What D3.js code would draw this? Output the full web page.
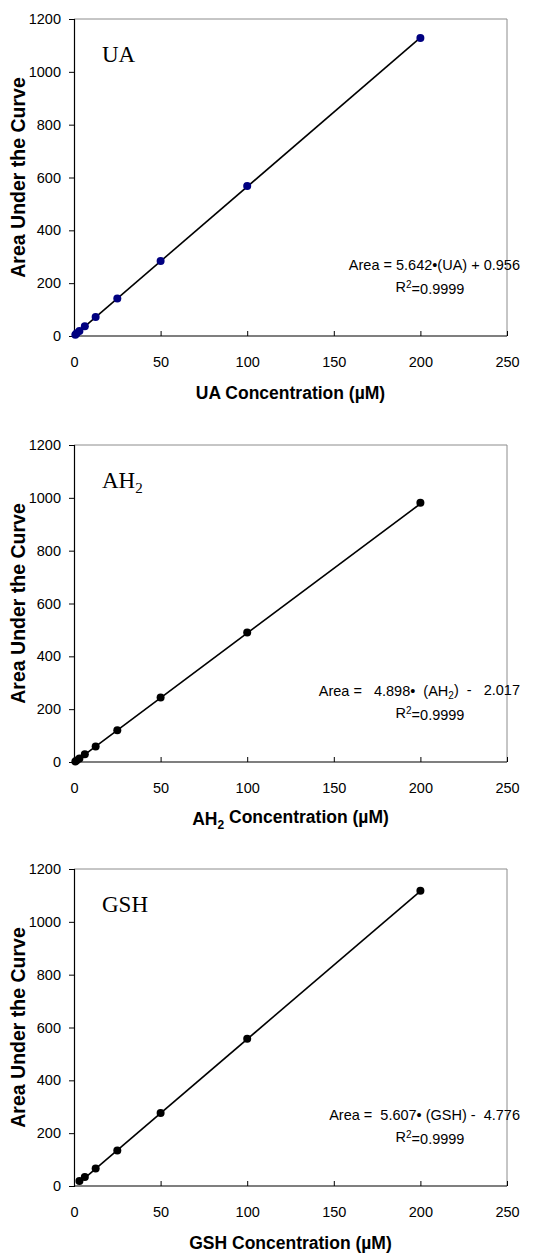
<!DOCTYPE html>
<html>
<head>
<meta charset="utf-8">
<script src="https://cdn.jsdelivr.net/npm/d3@7"></script>
<style>
  html, body { margin: 0; padding: 0; background: #fff; }
  svg { display: block; }
  .tick text { font-family: Arial, "Liberation Sans", sans-serif; font-size: 14.5px; fill: #000; }
  .axis-title { font-family: Arial, "Liberation Sans", sans-serif; font-size: 17.5px; font-weight: bold; fill: #000; }
  .y-title { font-size: 19.5px; }
  .panel-name { font-family: "Times New Roman", "Liberation Serif", serif; font-size: 23px; fill: #000; }
  .eq { font-family: Arial, "Liberation Sans", sans-serif; font-size: 14.5px; fill: #000; white-space: pre; }
</style>
</head>
<body>
<svg id="chart" width="549" height="1254"></svg>
<script>
// Calibration data: concentration (µM) vs. area under the curve
const concUA  = [0.78, 1.5625, 3.125, 6.25, 12.5, 25, 50, 100, 200];
const areaUA  = [5, 10, 19, 37, 72, 142, 284, 568, 1128];
const concAH2 = [0.78, 1.5625, 3.125, 6.25, 12.5, 25, 50, 100, 200];
const areaAH2 = [2, 6, 13, 29, 59, 120, 244, 490, 981];
const concGSH = [3.125, 6.25, 12.5, 25, 50, 100, 200];
const areaGSH = [19, 34, 66, 134, 276, 557, 1118];

// Linear fits (slope, intercept) as reported on each panel
const slopes     = [5.642, 4.898, 5.607];
const intercepts = [0.956, -2.017, -4.776];

const xTicks = [0, 50, 100, 150, 200, 250];
const yTicks = [0, 200, 400, 600, 800, 1000, 1200];

const panels = [
  { conc: concUA,  area: areaUA,  k: 0, color: "#000080",
    name: [["UA", false]],
    xTitle: [["UA Concentration (µM)", false]],
    eq: [["Area = 5.642•(UA) + 0.956", false]] },
  { conc: concAH2, area: areaAH2, k: 1, color: "#000000",
    name: [["AH", false], ["2", true]],
    xTitle: [["AH", false], ["2", true], [" Concentration (µM)", false]],
    eq: [["Area =   4.898•  (AH", false], ["2", true], [")  -   2.017", false]] },
  { conc: concGSH, area: areaGSH, k: 2, color: "#000000",
    name: [["GSH", false]],
    xTitle: [["GSH Concentration (µM)", false]],
    eq: [["Area =  5.607• (GSH) -  4.776", false]] }
];

const svg = d3.select("#chart");
const left = 74, right = 507, plotH = 317;
const tops = [19, 445, 869];

const x = d3.scaleLinear().domain([0, 250]).range([left, right]);

// write text pieces, lowering the subscript ones
function rich(sel, parts, subSize) {
  parts.forEach(([t, sub], i) => {
    const ts = sel.append("tspan").text(t);
    if (sub) ts.attr("dy", "0.3em").style("font-size", subSize);
    else if (i > 0 && parts[i - 1][1]) ts.attr("dy", "-0.3em");
  });
}

panels.forEach((p, i) => {
  const top = tops[i], bottom = top + plotH;
  const y = d3.scaleLinear().domain([0, 1200]).range([bottom, top]);
  const g = svg.append("g");

  // grey frame on top and right
  g.append("line").attr("x1", left).attr("x2", right).attr("y1", top).attr("y2", top)
    .attr("stroke", "#8c8c8c").attr("stroke-width", 1);
  g.append("line").attr("x1", right).attr("x2", right).attr("y1", top).attr("y2", bottom)
    .attr("stroke", "#8c8c8c").attr("stroke-width", 1);

  // axes
  const yAxis = g.append("g").attr("transform", `translate(${left},0)`)
    .call(d3.axisLeft(y).tickValues(yTicks).tickSize(5).tickPadding(8).tickFormat(d3.format("d")));
  const xAxis = g.append("g").attr("transform", `translate(0,${bottom})`)
    .call(d3.axisBottom(x).tickValues(xTicks).tickSizeInner(-5).tickSizeOuter(0).tickPadding(21).tickFormat(d3.format("d")));
  [yAxis, xAxis].forEach(a => {
    a.select(".domain").attr("stroke", "#000").attr("stroke-width", 1.2);
    a.selectAll(".tick line").attr("stroke", "#000");
    a.selectAll(".tick text").attr("font-family", null).attr("font-size", null);
  });
  xAxis.select(".domain").attr("d", `M${left},0H${right}`);

  // fitted line over the data range
  const x0 = d3.min(p.conc), x1 = d3.max(p.conc);
  const fit = c => slopes[p.k] * c + intercepts[p.k];
  g.append("line")
    .attr("x1", x(x0)).attr("y1", y(fit(x0)))
    .attr("x2", x(x1)).attr("y2", y(fit(x1)))
    .attr("stroke", "#000").attr("stroke-width", 1.6);

  // measured points
  g.selectAll("circle").data(p.conc.map((c, j) => [c, p.area[j]])).join("circle")
    .attr("cx", d => x(d[0])).attr("cy", d => y(d[1])).attr("r", 4)
    .attr("fill", p.color);

  // panel name
  rich(g.append("text").attr("class", "panel-name").attr("x", 102).attr("y", top + 43), p.name, "15px");

  // axis titles
  g.append("text").attr("class", "axis-title y-title")
    .attr("transform", `translate(25,${(top + bottom) / 2}) rotate(-90)`)
    .attr("text-anchor", "middle").text("Area Under the Curve");
  rich(g.append("text").attr("class", "axis-title").attr("x", (left + right) / 2)
    .attr("y", bottom + 63).attr("text-anchor", "middle"), p.xTitle, "12px");

  // equation and R²
  rich(g.append("text").attr("class", "eq").attr("x", 520).attr("y", top + 251)
    .attr("text-anchor", "end"), p.eq, "10px");
  const r2 = g.append("text").attr("class", "eq").attr("x", 430).attr("y", top + 273)
    .attr("text-anchor", "middle");
  r2.append("tspan").text("R");
  r2.append("tspan").text("2").attr("dy", "-0.45em").style("font-size", "10px");
  r2.append("tspan").text("=0.9999").attr("dy", "0.45em");
});
</script>
</body>
</html>
